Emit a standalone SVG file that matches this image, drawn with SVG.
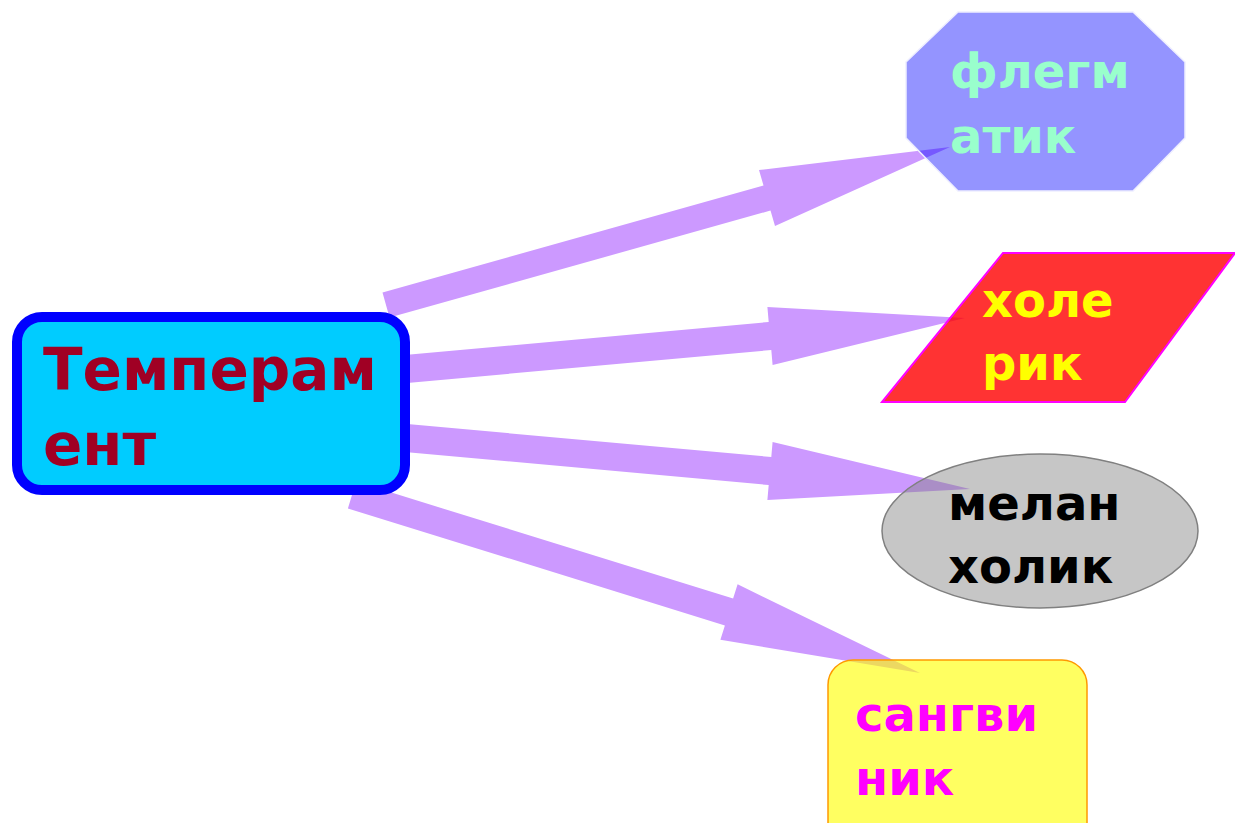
<svg xmlns="http://www.w3.org/2000/svg" width="1235" height="823" viewBox="0 0 1235 823">
<style>
.arrow{fill:#cc99ff;stroke:none}
.t{font-family:"DejaVu Sans","Verdana",sans-serif;font-weight:bold}
</style>
<rect width="1235" height="823" fill="#ffffff"/>
<g id="connectors">
<polygon class="arrow" points="382.5,292.5 763.5,185.5 759,170 950,147 775,226 770.5,210.5 389.5,317.5"/>
<polygon class="arrow" points="404.7,355 768.7,322 767.4,307.1 965,318 772.6,364.9 771.3,350 407.3,383"/>
<polygon class="arrow" points="407.3,424 771.3,457 772.6,442.1 970,489 767.4,499.9 768.7,485 404.7,452"/>
<polygon class="arrow" points="356.1,481.6 733.1,598.6 737.6,584.3 920,673 720.4,639.7 724.9,625.4 347.9,508.4"/>
</g>
<g id="temperament">
<rect x="17" y="317" width="388" height="173" rx="25" fill="#00ccff" stroke="#0000ff" stroke-width="10"/>
<text class="t" x="43" y="390" font-size="58" fill="#a00024">Темперам</text>
<text class="t" x="43" y="465" font-size="58" fill="#a00024">ент</text>
</g>
<g id="phlegmatic">
<polygon points="958,12 1133,12 1185,62 1185,138 1133,191 958,191 906,138 906,62" fill="#0000ff" fill-opacity="0.42" stroke="#eeeeff" stroke-width="1.5"/>
<text class="t" x="950" y="88" font-size="48" fill="#99ffcc">флегм</text>
<text class="t" x="950" y="153" font-size="48" fill="#99ffcc">атик</text>
</g>
<g id="choleric">
<polygon points="1003,253 1235,253 1125,402 882,402" fill="#ff0000" fill-opacity="0.8" stroke="#ff00ff" stroke-width="2"/>
<text class="t" x="982" y="317" font-size="48" fill="#ffff00">холе</text>
<text class="t" x="982" y="380" font-size="48" fill="#ffff00">рик</text>
</g>
<g id="melancholic">
<ellipse cx="1040" cy="531" rx="158" ry="77" fill="#808080" fill-opacity="0.45" stroke="#808080" stroke-width="1.5"/>
<text class="t" x="948" y="520" font-size="48" fill="#000000">мелан</text>
<text class="t" x="948" y="583" font-size="48" fill="#000000">холик</text>
</g>
<g id="sanguine">
<rect x="828" y="660" width="259" height="190" rx="25" fill="#ffff00" fill-opacity="0.62" stroke="#ff9900" stroke-width="1.5"/>
<text class="t" x="855" y="731" font-size="48" fill="#ff00ff">сангви</text>
<text class="t" x="855" y="795" font-size="48" fill="#ff00ff">ник</text>
</g>
</svg>
